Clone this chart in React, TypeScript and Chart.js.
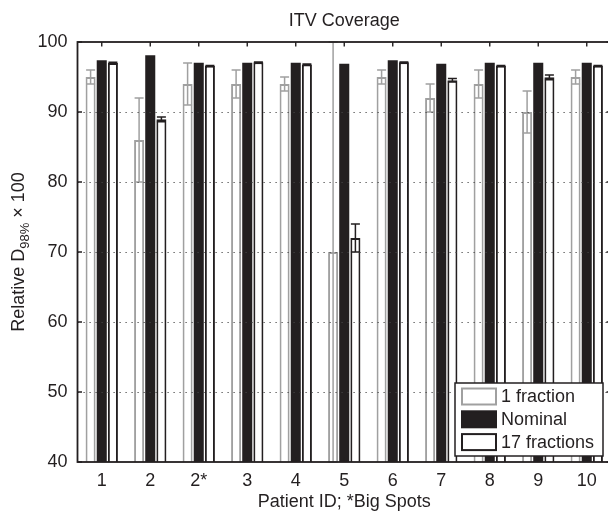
import React, { useEffect, useRef } from 'react';
import { Chart, registerables } from 'chart.js';

Chart.register(...registerables);

// ---- data ----
const categories = ['1', '2', '2*', '3', '4', '5', '6', '7', '8', '9', '10'];
const seriesNames = ['1 fraction', 'Nominal', '17 fractions'];
const oneFraction = [95, 86, 94, 94, 94, 70, 95, 92, 94, 90, 95];
const oneFractionErr = [1, 6, 3, 2, 1, 30, 1, 2, 2, 3, 1];
const nominal = [97.4, 98.1, 97.05, 97.05, 97.05, 96.9, 97.4, 96.9, 97.05, 97.05, 97.05];
const seventeen = [97.0, 88.95, 96.6, 97.1, 96.8, 72, 97.1, 94.55, 96.6, 94.95, 96.6];
const seventeenErr = [0.1, 0.35, 0.05, 0.05, 0.05, 2, 0.05, 0.25, 0.05, 0.35, 0.05];
const yTicks = [40, 50, 60, 70, 80, 90, 100];
const chartTitle = 'ITV Coverage';
const xTitle = 'Patient ID; *Big Spots';

const FONT = '"Liberation Sans", Arial, Helvetica, sans-serif';
const INK = '#231f20';
const GRAY = '#a0a0a0';
const FS = 18;

const decor = {
  id: 'decor',
  afterDatasetsDraw(chart: any) {
    const { ctx, chartArea: ca, scales } = chart;
    const x = scales.x;
    const y = scales.y;
    ctx.save();

    // error bars
    const drawErr = (di: number, vals: number[], errs: number[], color: string) => {
      const meta = chart.getDatasetMeta(di);
      ctx.strokeStyle = color;
      ctx.lineWidth = 1.5;
      ctx.setLineDash([]);
      meta.data.forEach((bar: any, i: number) => {
        const e = errs[i];
        const v = vals[i];
        const cx = bar.x;
        const yt = y.getPixelForValue(v + e);
        const yb = y.getPixelForValue(v - e);
        const hw = 4.5;
        ctx.beginPath();
        ctx.moveTo(cx, yt);
        ctx.lineTo(cx, yb);
        ctx.moveTo(cx - hw, yt);
        ctx.lineTo(cx + hw, yt);
        ctx.moveTo(cx - hw, yb);
        ctx.lineTo(cx + hw, yb);
        ctx.stroke();
      });
    };
    drawErr(0, oneFraction, oneFractionErr, GRAY);
    drawErr(2, seventeen, seventeenErr, INK);

    // dotted grid
    ctx.strokeStyle = '#444';
    ctx.lineWidth = 1;
    ctx.setLineDash([1.2, 4.8]);
    yTicks.slice(1, -1).forEach((t) => {
      const py = Math.round(y.getPixelForValue(t)) + 0.5;
      ctx.beginPath();
      ctx.moveTo(ca.left, py);
      ctx.lineTo(ca.right, py);
      ctx.stroke();
    });

    // frame
    ctx.setLineDash([]);
    ctx.lineWidth = 1.8;
    ctx.strokeStyle = INK;
    ctx.strokeRect(ca.left, ca.top, ca.right - ca.left, ca.bottom - ca.top);

    // inward ticks
    ctx.lineWidth = 1.4;
    ctx.beginPath();
    categories.forEach((_, i) => {
      const px = x.getPixelForValue(i);
      ctx.moveTo(px, ca.top);
      ctx.lineTo(px, ca.top + 4.5);
      ctx.moveTo(px, ca.bottom);
      ctx.lineTo(px, ca.bottom - 4.5);
    });
    yTicks.forEach((t) => {
      const py = y.getPixelForValue(t);
      ctx.moveTo(ca.left, py);
      ctx.lineTo(ca.left + 4.5, py);
      ctx.moveTo(ca.right, py);
      ctx.lineTo(ca.right - 4.5, py);
    });
    ctx.stroke();

    // title
    ctx.fillStyle = INK;
    ctx.font = `${FS}px ${FONT}`;
    ctx.textAlign = 'center';
    ctx.textBaseline = 'middle';
    ctx.fillText(chartTitle, (ca.left + ca.right) / 2, 21);

    // y-axis title with subscript
    ctx.save();
    ctx.translate(24, (ca.top + ca.bottom) / 2);
    ctx.rotate(-Math.PI / 2);
    const big = `${FS}px ${FONT}`;
    const small = `13px ${FONT}`;
    ctx.font = big;
    const w1 = ctx.measureText('Relative D').width;
    const w3 = ctx.measureText(' \u00d7 100').width;
    ctx.font = small;
    const w2 = ctx.measureText('98%').width;
    let sx = -(w1 + w2 + w3) / 2;
    ctx.textAlign = 'left';
    ctx.textBaseline = 'alphabetic';
    ctx.font = big;
    ctx.fillText('Relative D', sx, 0);
    sx += w1;
    ctx.font = small;
    ctx.fillText('98%', sx, 5);
    sx += w2;
    ctx.font = big;
    ctx.fillText(' \u00d7 100', sx, 0);
    ctx.restore();

    // legend
    const lx = ca.right - 156;
    const ly = ca.bottom - 79;
    const lw = 148;
    const lh = 73;
    ctx.fillStyle = '#fff';
    ctx.fillRect(lx, ly, lw, lh);
    ctx.strokeStyle = INK;
    ctx.lineWidth = 1.5;
    ctx.strokeRect(lx, ly, lw, lh);
    const styles = [
      { fill: '#fff', stroke: GRAY },
      { fill: INK, stroke: INK },
      { fill: '#fff', stroke: INK },
    ];
    seriesNames.forEach((name, i) => {
      const cy = ly + 13.5 + i * 22.8;
      const s = styles[i];
      ctx.fillStyle = s.fill;
      ctx.fillRect(lx + 7, cy - 8, 34, 16);
      ctx.strokeStyle = s.stroke;
      ctx.lineWidth = 2;
      ctx.strokeRect(lx + 7, cy - 8, 34, 16);
      ctx.fillStyle = INK;
      ctx.font = `${FS}px ${FONT}`;
      ctx.textAlign = 'left';
      ctx.textBaseline = 'middle';
      ctx.fillText(name, lx + 46, cy + 1);
    });

    ctx.restore();
  },
};

export default function App() {
  const ref = useRef<HTMLCanvasElement | null>(null);
  useEffect(() => {
    if (!ref.current) return;
    const common = { categoryPercentage: 0.69, barPercentage: 0.9, borderSkipped: 'start' as const };
    const chart = new Chart(ref.current, {
      type: 'bar',
      data: {
        labels: categories,
        datasets: [
          { label: seriesNames[0], data: oneFraction, backgroundColor: '#fff', borderColor: GRAY, borderWidth: 2, ...common },
          { label: seriesNames[1], data: nominal, backgroundColor: INK, borderColor: INK, borderWidth: 0, ...common },
          { label: seriesNames[2], data: seventeen, backgroundColor: '#fff', borderColor: INK, borderWidth: 2, ...common },
        ],
      },
      options: {
        animation: false,
        responsive: false,
        maintainAspectRatio: false,
        layout: { padding: { top: 42, right: 0, left: 0, bottom: 0 } },
        plugins: { legend: { display: false }, tooltip: { enabled: false }, title: { display: false } },
        scales: {
          x: {
            type: 'category',
            offset: true,
            grid: { display: false, drawTicks: false },
            border: { display: false },
            ticks: { font: { family: FONT, size: FS }, color: INK, padding: 8, maxRotation: 0, autoSkip: false },
            title: { display: true, text: xTitle, font: { family: FONT, size: FS }, color: INK, padding: { top: 0, bottom: 3 } },
            afterFit: (s: any) => { s.height = 54; },
          },
          y: {
            type: 'linear',
            min: 40,
            max: 100,
            afterBuildTicks: (s: any) => { s.ticks = yTicks.map((v) => ({ value: v })); },
            grid: { display: false, drawTicks: false },
            border: { display: false },
            ticks: { font: { family: FONT, size: FS }, color: INK, padding: 10 },
            afterFit: (s: any) => { s.width = 77.5; },
          },
        },
      },
      plugins: [decor],
    });
    return () => chart.destroy();
  }, []);
  return (
    <div style={{ position: 'absolute', left: 0, top: 0, width: 608, height: 516, overflow: 'hidden', background: '#fff' }}>
      <canvas ref={ref} width={611} height={516} style={{ display: 'block', width: 611, height: 516 }} />
    </div>
  );
}
